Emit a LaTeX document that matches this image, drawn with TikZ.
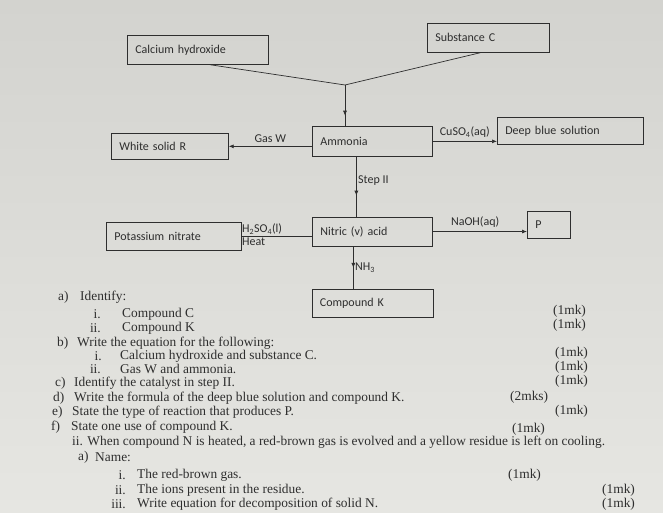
\documentclass[tikz,border=0pt]{standalone}
\usepackage{fontspec}
\setmainfont{Liberation Serif}
\setsansfont{Carlito}
\usetikzlibrary{positioning,calc,arrows.meta,decorations.markings}

\definecolor{ink}{HTML}{2E2E2E}
\definecolor{papertop}{HTML}{D3D3CF}
\definecolor{paperbot}{HTML}{E6E6E2}

\begin{document}
\begin{tikzpicture}[x=1pt,y=-1pt,
  box/.style={rectangle,draw=ink,line width=.7pt,anchor=north west,inner xsep=8pt,inner ysep=2pt,align=left,text=ink,font=\sffamily\fontsize{12}{14}\selectfont},
  tag/.style={inner sep=1.5pt,text=ink,font=\sffamily\fontsize{12}{13}\selectfont},
  link/.style={draw=ink,line width=.7pt},
  tip/.style={-{Latex[length=5pt,width=4pt]}},
  midarrow/.style={decoration={markings,mark=at position #1 with {\arrow{Latex[length=5pt,width=4pt]}}},postaction={decorate}},
  q/.style={anchor=west,inner sep=0pt,text=ink,font=\fontsize{13.4}{15}\selectfont},
  mk/.style={anchor=west,inner sep=0pt,text=ink,font=\fontsize{13.4}{15}\selectfont}]

\useasboundingbox (0,0) rectangle (663,513);
\shade[top color=papertop,bottom color=paperbot] (0,0) rectangle (663,513);


%%%%%%%%%%%%%%%%%%%%%% FLOW CHART


\node (calcium) [text width=125pt] [box,minimum height=29pt] at (127,35) {Calcium hydroxide};
\node (subC) [text width=106pt] [box,minimum height=29pt] at (427,23) {Substance C};

\node (ammonia) [text width=104pt] [box,minimum height=30pt] at (312,126) {Ammonia};
\node (whiteR) [text width=101pt] [box,minimum height=26pt] at (111,133) {White solid R};
\node (deepblue) [text width=130pt] [box,minimum height=27pt] at (497,117) {Deep blue solution};

\node (nitric) [text width=104pt,below=60pt of ammonia] [box,anchor=north,minimum height=29pt] {Nitric (v) acid};
\node (kno3) [text width=119pt] [box,minimum height=28pt] at (106,222) {Potassium nitrate};
\node (P) [text width=27pt] [box,minimum height=27pt] at (527,211) {P};

\node (compK) [text width=105pt,below=43pt of nitric] [box,anchor=north,minimum height=28pt] {Compound K};

\coordinate (J) at (345,85);
\coordinate (S2) at ($(ammonia.south)+(-16,0)$);
\coordinate (N3) at ($(nitric.south)+(-19,0)$);

\draw[link] ($(calcium.south)+(12,0)$) -- (J);
\draw[link] ($(subC.south)+(-8,0)$) -- (J);
\draw[link,midarrow=.75] (J) -- (J |- ammonia.north);

\draw[link,tip] (ammonia.west |- whiteR.east) -- (whiteR.east) node[tag,above,midway,yshift=2pt] (gasW) {Gas W};
\draw[link,tip] (ammonia.east) -- (ammonia.east -| deepblue.west) node[tag,above,midway,yshift=2pt] (cuso4) {CuSO\textsubscript{4}(aq)};

\draw[link,midarrow=.65] (S2) -- (S2 |- nitric.north) node[tag,right,pos=.4] (step2) {Step II};

\draw[link] (kno3.east) -- (kno3.east -| nitric.west)
  node[tag,above right,pos=0,inner xsep=0pt] (h2so4) {H\textsubscript{2}SO\textsubscript{4}(l)}
  node[tag,below right,pos=0,inner xsep=0pt] (heat) {Heat};
\draw[link,tip] (nitric.east) -- (nitric.east -| P.west) node[tag,above,pos=.45,yshift=2pt] (naoh) {NaOH(aq)};

\draw[link,midarrow=.5] (N3) -- (N3 |- compK.north) node[tag,right,pos=.5] (nh3) {NH\textsubscript{3}};


%%%%%%%%%%%%%%%%%%%%%% QUESTIONS


\node (qa) [q] at (58,297) {a)};
\node (qa0) [q] at (80,297) {Identify:};
\node (qa1n) [q,anchor=east] at (101,314) {i.};
\node (qa1) [q] at (122,314) {Compound C};
\node (qa2n) [q,anchor=east] at (101,328) {ii.};
\node (qa2) [q] at (122,328) {Compound K};
\node (ma1) [mk] at (553,311) {(1mk)};
\node (ma2) [mk] at (553,325) {(1mk)};

\node (qb) [q] at (57,343) {b)};
\node (qb0) [q] at (77,343) {Write the equation for the following:};
\node (qb1n) [q,anchor=east] at (102,356) {i.};
\node (qb1) [q] at (120,356) {Calcium hydroxide and substance C.};
\node (qb2n) [q,anchor=east] at (101,369) {ii.};
\node (qb2) [q] at (120,369) {Gas W and ammonia.};
\node (mb1) [mk] at (555,353) {(1mk)};
\node (mb2) [mk] at (555,367) {(1mk)};

\node (qc) [q] at (55,383) {c)};
\node (qc0) [q] at (74,383) {Identify the catalyst in step II.};
\node (mc) [mk] at (555,381) {(1mk)};

\node (qd) [q] at (53,398) {d)};
\node (qd0) [q] at (74,398) {Write the formula of the deep blue solution and compound K.};
\node (md) [mk] at (510,397) {(2mks)};

\node (qe) [q] at (52,412) {e)};
\node (qe0) [q] at (72,412) {State the type of reaction that produces P.};
\node (me) [mk] at (555,411) {(1mk)};

\node (qf) [q] at (51,427) {f)};
\node (qf0) [q] at (71,427) {State one use of compound K.};
\node (mf) [mk] at (512,429) {(1mk)};

\node (q2) [q] at (72,442) {ii. When compound N is heated, a red-brown gas is evolved and a yellow residue is left on cooling.};
\node (q2a) [q] at (78,457) {a)};
\node (q2a0) [q] at (95,457) {Name:};
\node (q2a1n) [q,anchor=east] at (126,475) {i.};
\node (q2a1) [q] at (137,475) {The red-brown gas.};
\node (q2a2n) [q,anchor=east] at (126,490) {ii.};
\node (q2a2) [q] at (137,490) {The ions present in the residue.};
\node (q2a3n) [q,anchor=east] at (126,504) {iii.};
\node (q2a3) [q] at (137,504) {Write equation for decomposition of solid N.};
\node (m2a1) [mk] at (508,475) {(1mk)};
\node (m2a2) [mk] at (602,490) {(1mk)};
\node (m2a3) [mk] at (602,504) {(1mk)};

\end{tikzpicture}
\end{document}
